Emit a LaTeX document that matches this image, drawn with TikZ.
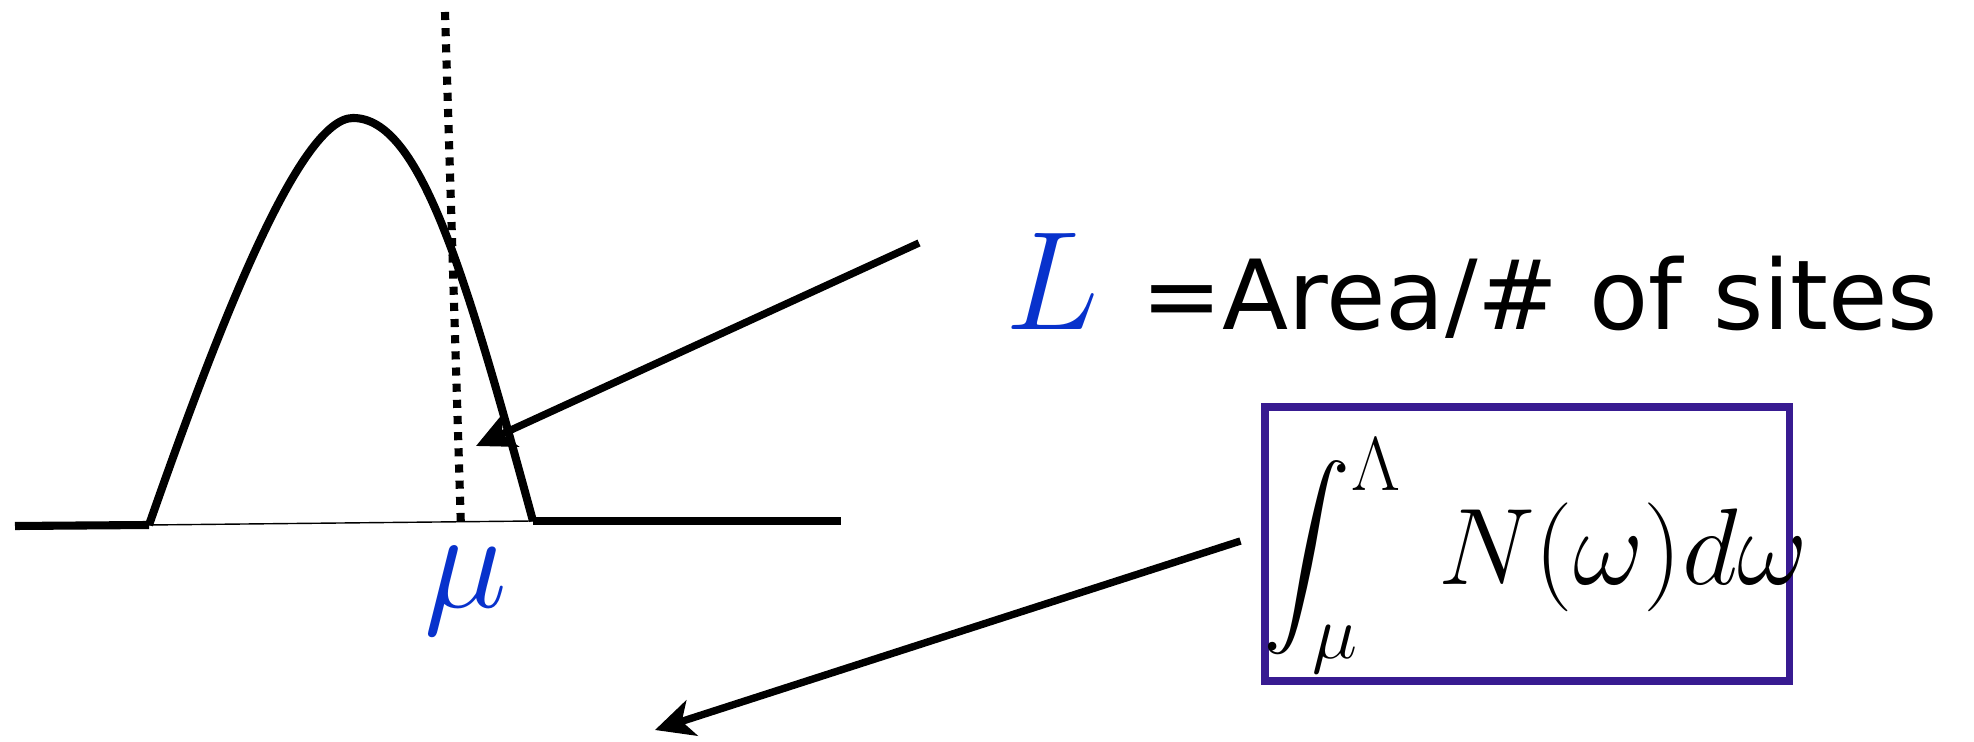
\RequirePackage{fix-cm}
\documentclass[tikz,border=0pt]{standalone}
\usepackage{amsmath}
\usepackage{fontspec}
\newfontfamily\handfont{DejaVu Sans}
\usetikzlibrary{arrows.meta}

\definecolor{mublue}{RGB}{8,50,204}
\definecolor{boxpurple}{RGB}{56,27,145}

\begin{document}
\begin{tikzpicture}[
    thickline/.style={line width=2.3pt},
    pointer/.style={line width=2.1pt, -{Stealth[length=11pt,width=10.5pt,inset=3pt]}},
    bigmath/.style={font=\fontsize{40}{48}\selectfont},
  ]

    % Fix the page size
    \useasboundingbox (0,0) rectangle (19.74,7.42);

    % Define the ends of the bump on the axis
    \coordinate (A) at (1.49,2.17);
    \coordinate (B) at (5.33,2.21);
    \coordinate (top) at (3.53,6.24);

    % Draw the axis on both sides of the bump
    \draw[thickline] (0.15,2.16) -- (A);
    \draw[thickline] (B) -- (8.41,2.21);
    \draw[line width=0.4pt] (A) -- (B);

    % Draw the bump (density of states)
    \draw[thickline, line join=round] (A) .. controls (2.2,4.2) and (3.0,6.24) .. (top)
        .. controls (4.2,6.24) and (4.65,4.7) .. (B);

    % Dotted line at mu
    \coordinate (T) at (4.45,7.30);
    \coordinate (M) at (4.61,2.13);
    \draw[line width=2.3pt, dash pattern=on 2.3pt off 2.3pt] (T) -- (M);
    \node[bigmath, text=mublue, anchor=base, inner sep=0pt] (mu) at (4.66,1.34) {$\mu$};

    % Label for the area
    \node[anchor=base west, inner sep=0pt] (area) at (10.05,4.12)
        {{\color{mublue}\fontsize{40}{48}\selectfont$L$}\hspace{12pt}{\handfont\fontsize{27.5}{33}\selectfont =Area/\# of sites}};
    \coordinate (P) at (4.76,2.96);
    \coordinate (Q) at (9.19,4.99);
    \draw[pointer] (Q) -- (P);

    % Boxed integral
    \node[draw=boxpurple, line width=2pt, minimum width=5.24cm, minimum height=2.74cm] (box) at (15.27,1.98) {};
    \node[anchor=base west, inner sep=0pt, font=\fontsize{31}{37}\selectfont] (integral) at (12.63,1.57)
        {$\displaystyle\int_{\mu}^{\Lambda}\,N(\omega)d\omega$};
    \coordinate (R) at (6.55,0.12);
    \draw[pointer] ([xshift=-0.21cm,yshift=0.03cm]box.west) -- (R);

\end{tikzpicture}
\end{document}
